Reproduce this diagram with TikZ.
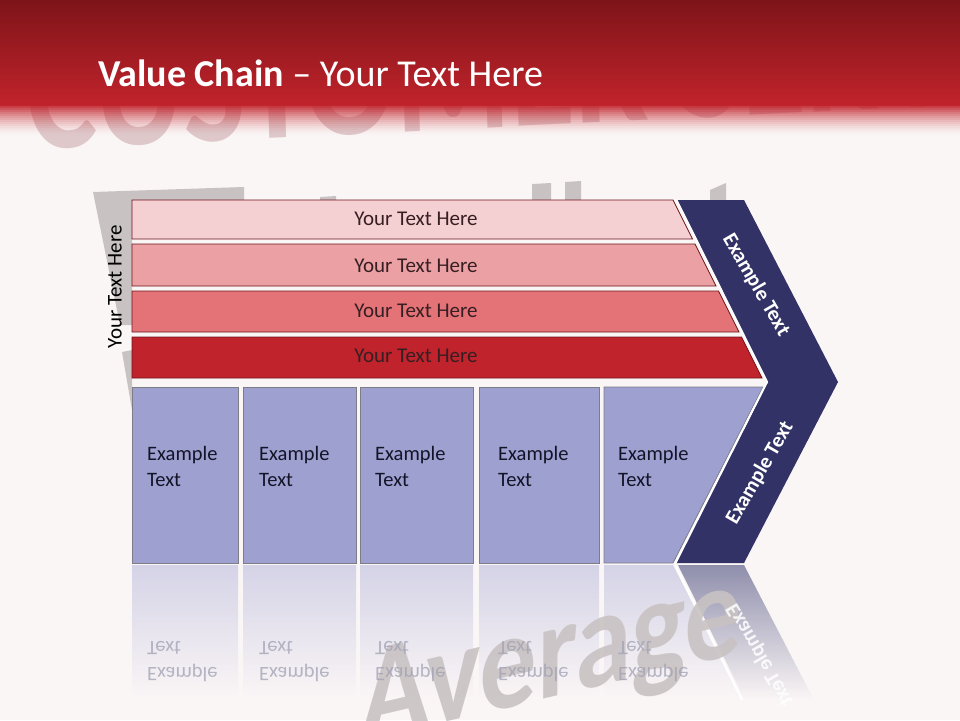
\documentclass[tikz,border=0pt]{standalone}
\usepackage{fontspec}
\setmainfont{Carlito}
\definecolor{bg}{RGB}{251,246,246}
\definecolor{hdtop}{RGB}{125,20,25}
\definecolor{hdbot}{RGB}{193,35,43}
\definecolor{wmc}{RGB}{200,194,195}
\definecolor{wmlight}{RGB}{222,200,202}
\definecolor{barA}{RGB}{245,208,210}
\definecolor{barB}{RGB}{235,161,164}
\definecolor{barC}{RGB}{227,115,118}
\definecolor{barD}{RGB}{192,35,43}
\definecolor{barline}{RGB}{110,20,28}
\definecolor{boxfill}{RGB}{158,160,208}
\definecolor{boxline}{RGB}{125,125,135}
\definecolor{chev}{RGB}{50,50,102}
\definecolor{reflA}{RGB}{200,200,226}
\definecolor{reflC}{RGB}{125,125,160}
\definecolor{bartext}{RGB}{55,30,35}
\definecolor{boxtext}{RGB}{20,20,40}
\definecolor{refltext}{RGB}{160,160,178}
\tikzset{
  wmtext/.style={inner sep=0pt},
  wmshape/.style={fill=wmc},
  barshape/.style={draw=barline, line width=0.8pt},
  boxshape/.style={fill=boxfill, draw=boxline, line width=0.8pt},
  bartxt/.style={text=bartext, font=\fontsize{21}{24}\selectfont},
  boxtxt/.style={text=boxtext, font=\fontsize{20.5}{26}\selectfont, align=left, anchor=west, inner sep=0pt},
  reftxt/.style={text=refltext, font=\fontsize{20.5}{26}\selectfont, align=left, anchor=west, inner sep=0pt, yscale=-1, text opacity=0.75},
  chevtxt/.style={text=white, font=\fontsize{21}{24}\selectfont\bfseries},
  reflbox/.style={top color=reflA, bottom color=bg, fill opacity=0.75},
}
\begin{document}
\begin{tikzpicture}[x=1pt,y=-1pt]
\useasboundingbox (0,0) rectangle (960,720);
\fill[bg] (0,0) rectangle (960,720);

% background watermark
\node[wmtext, text=wmlight, font=\fontsize{165}{165}\selectfont\bfseries, xscale=0.8, anchor=base west, rotate=2.2] (wmcs) at (28,150) {CUSTOMER SERVICE};
\fill[wmshape] (93,192) -- (244,187) -- (244,200) -- (132,200) -- (132,325) -- (120,325) -- cycle;
\fill[wmshape] (320,197) -- (336,196) -- (336,200) -- (320,200) -- cycle;
\fill[wmshape] (532,184) -- (551,183) -- (551,200) -- (532,200) -- cycle;
\fill[wmshape] (565,182) -- (581,181) -- (581,200) -- (565,200) -- cycle;
\fill[wmshape] (710,190) -- (726,183) -- (726,200) -- (710,200) -- cycle;
\fill[wmshape] (122,352) -- (132,350) -- (132,410) -- cycle;

% header
\shade[top color=hdtop, bottom color=hdbot] (0,0) rectangle (960,105);
\foreach \i in {0,...,15} {
  \pgfmathsetmacro\op{(1-(\i+0.5)/16)^1.6}
  \fill[hdbot, fill opacity=\op] (0,{104+2*\i}) rectangle (960,{106.2+2*\i});
}
\node[text=white, anchor=base west, inner sep=0pt, font=\fontsize{38}{40}\selectfont] (title) at (98,86) {\textbf{Value Chain} – Your Text Here};

% reflections
\shade[reflbox] (132,565) rectangle (238,700);
\shade[reflbox] (243,565) rectangle (356,700);
\shade[reflbox] (360,565) rectangle (473,700);
\shade[reflbox] (479,565) rectangle (599,700);
\shade[reflbox] (604,565) -- (673,565) -- (742,700) -- (604,700) -- cycle;
\shade[top color=reflC, bottom color=bg, fill opacity=0.85] (678,565) -- (744,565) -- (814,700) -- (745,700) -- cycle;
\draw[white, line width=2pt] (675,565) -- (742,700);
\node[wmtext, text=wmc, text opacity=0.9, font=\fontsize{140}{140}\selectfont\bfseries, xscale=0.8, xslant=0.2, anchor=base west, rotate=11] (wmav) at (360,742) {Average};
\node[reftxt] (r1) at (147,662) {Example\\Text};
\node[reftxt] (r2) at (259,662) {Example\\Text};
\node[reftxt] (r3) at (375,662) {Example\\Text};
\node[reftxt] (r4) at (498,662) {Example\\Text};
\node[reftxt] (r5) at (618,662) {Example\\Text};
\node[chevtxt, rotate=-60, yscale=-1, text opacity=0.85] (r6) at (760,655) {Example Text};

% red bars
\fill[barA, barshape] (132,200) -- (673,200) -- (692.5,239) -- (132,239) -- cycle;
\fill[barB, barshape] (132,244) -- (695,244) -- (716,286) -- (132,286) -- cycle;
\fill[barC, barshape] (132,291) -- (718.5,291) -- (739,332) -- (132,332) -- cycle;
\fill[barD, barshape] (132,337) -- (741.5,337) -- (762,378) -- (132,378) -- cycle;
\node[bartxt] (t1) at (416,219) {Your Text Here};
\node[bartxt] (t2) at (416,266) {Your Text Here};
\node[bartxt] (t3) at (416,311) {Your Text Here};
\node[bartxt] (t4) at (416,356) {Your Text Here};
\node[rotate=90, font=\fontsize{21}{24}\selectfont] (side) at (115,287) {Your Text Here};

% blue boxes
\filldraw[boxshape] (132,387) rectangle (238,563);
\filldraw[boxshape] (243,387) rectangle (356,563);
\filldraw[boxshape] (360,387) rectangle (473,563);
\filldraw[boxshape] (479,387) rectangle (599,563);
\filldraw[boxshape] (604,387) -- (763,387) -- (673,563) -- (604,563) -- cycle;
\node[boxtxt] (b1) at (147,466) {Example\\Text};
\node[boxtxt] (b2) at (259,466) {Example\\Text};
\node[boxtxt] (b3) at (375,466) {Example\\Text};
\node[boxtxt] (b4) at (498,466) {Example\\Text};
\node[boxtxt] (b5) at (618,466) {Example\\Text};

% chevron
\fill[chev] (677,200) -- (744,200) -- (838,382) -- (744,563) -- (676,563) -- (768,382) -- cycle;
\draw[white, line width=2pt] (676,199) -- (767,382) -- (675,564);
\node[chevtxt, rotate=-60] (c1) at (756,285) {Example Text};
\node[chevtxt, rotate=60] (c2) at (760,473) {Example Text};
\end{tikzpicture}
\end{document}
